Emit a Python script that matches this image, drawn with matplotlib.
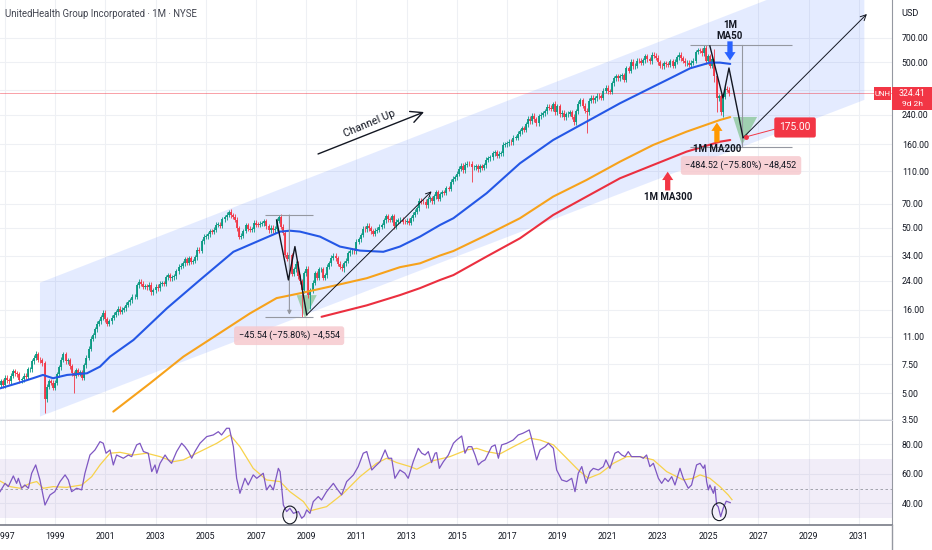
import matplotlib.pyplot as plt
import numpy as np
from matplotlib.patches import Polygon, Ellipse, Rectangle
from matplotlib.lines import Line2D
from matplotlib.ticker import NullLocator

plt.rcParams['font.family'] = ['Roboto', 'DejaVu Sans']

# monthly closes, Oct 1996 .. Nov 2025 (split adjusted)
first_month = 1996 + 9 / 12
closes = [
    5.6, 5.9, 5.6,
    6.2, 6.0, 5.9, 6.4, 6.8, 6.6, 6.5, 6.0, 6.1, 6.4, 6.3, 7.0,
    7.0, 7.8, 8.2, 8.6, 8.0, 7.9, 7.6, 4.6, 5.5, 5.9, 5.8, 5.4,
    5.8, 6.5, 7.2, 8.0, 8.6, 7.8, 7.9, 7.3, 6.6, 6.4, 6.9, 6.6,
    6.7, 6.2, 7.4, 8.2, 9.3, 10.7, 11.2, 12.2, 13.2, 13.6, 14.4, 15.3,
    14.0, 13.2, 13.6, 14.3, 14.9, 15.4, 16.2, 15.6, 16.0, 16.3, 17.2, 17.7,
    18.3, 19.1, 19.1, 22.5, 23.6, 22.9, 22.0, 22.1, 21.8, 22.7, 20.4, 20.9,
    22.0, 21.5, 22.9, 23.0, 22.9, 25.1, 25.9, 24.7, 25.2, 25.4, 27.3, 29.1,
    29.5, 30.5, 32.2, 30.8, 32.8, 31.1, 31.5, 33.1, 36.9, 36.2, 41.4, 44.0,
    44.5, 45.7, 47.7, 47.3, 48.6, 52.1, 52.3, 51.5, 56.2, 57.9, 59.9, 62.1,
    59.4, 58.2, 55.9, 49.7, 44.0, 44.8, 47.8, 51.9, 49.2, 48.8, 49.1, 53.7,
    52.3, 52.2, 53.0, 53.1, 54.8, 51.1, 48.4, 50.0, 48.4, 49.2, 55.0, 58.2,
    50.8, 46.5, 34.4, 32.6, 34.2, 26.3, 28.1, 30.4, 25.4, 23.7, 21.0, 26.6,
    28.3, 19.6, 20.9, 23.3, 26.6, 25.0, 28.0, 28.0, 25.0, 25.9, 29.1, 30.5,
    33.0, 33.9, 32.7, 30.3, 29.1, 28.4, 30.5, 31.7, 35.1, 36.0, 36.4, 36.1,
    41.1, 42.6, 45.2, 49.2, 48.9, 51.6, 49.6, 47.5, 46.1, 48.0, 48.8, 50.7,
    51.8, 55.6, 58.9, 56.2, 55.8, 58.5, 51.1, 54.3, 55.4, 56.0, 54.4, 54.2,
    55.2, 53.5, 57.2, 59.9, 62.6, 65.5, 72.9, 71.7, 71.6, 68.3, 74.4, 75.3,
    72.3, 77.3, 82.0, 75.0, 79.6, 81.8, 81.1, 86.7, 86.3, 95.0, 98.6, 101.1,
    106.3, 113.7, 118.3, 111.4, 120.2, 122.0, 121.4, 115.6, 116.0, 117.8, 112.7, 117.6,
    115.2, 119.1, 128.9, 131.7, 133.7, 141.2, 143.2, 136.1, 140.0, 141.3, 158.3, 160.0,
    162.1, 165.4, 164.0, 174.9, 175.2, 185.4, 191.8, 198.9, 195.9, 210.2, 228.2, 220.5,
    236.8, 226.1, 214.0, 236.4, 241.5, 245.3, 253.2, 268.5, 266.0, 261.4, 281.4, 249.1,
    270.2, 242.2, 247.3, 233.1, 241.8, 244.0, 249.0, 234.0, 217.3, 252.7, 279.9, 294.0,
    272.4, 255.0, 249.4, 292.5, 304.9, 295.0, 302.8, 312.6, 311.8, 305.1, 336.3, 350.7,
    333.6, 332.2, 372.1, 398.8, 411.9, 400.4, 412.2, 416.3, 390.7, 460.5, 444.2, 502.1,
    472.6, 475.9, 510.0, 508.6, 496.8, 513.6, 542.3, 519.3, 505.0, 555.1, 547.8, 530.2,
    499.2, 475.9, 472.6, 492.1, 487.3, 480.6, 506.4, 476.6, 504.2, 535.6, 553.0, 526.5,
    511.7, 493.6, 494.7, 483.7, 495.4, 509.3, 576.1, 590.2, 584.7, 564.5, 610.2, 505.9,
    542.5, 476.3, 523.8, 411.4, 301.9, 312.0, 249.6, 309.9, 345.3, 341.5, 324.4,
]
first_open = 5.4

# wicks that stick out far enough to see
wick_lows = {(1998, 8): 3.8, (1999, 10): 5.0, (2008, 11): 14.5, (2009, 3): 16.2,
             (2010, 7): 27.1, (2015, 8): 95.0, (2020, 3): 187.7, (2025, 4): 380.0,
             (2025, 5): 248.9, (2025, 8): 234.6}
wick_highs = {(1998, 4): 9.0, (2006, 1): 64.6, (2007, 12): 59.5, (2018, 11): 287.9,
              (2024, 11): 630.7, (2025, 4): 599.5}

ma50 = [(1996.81, 5.36), (1997.49, 5.75), (1998.12, 6.17), (1998.52, 6.46), (1998.92, 6.17),
        (1999.48, 6.46), (2000.27, 6.61), (2000.79, 7.25), (2001.19, 8.33), (2002.12, 10.5),
        (2003.45, 16.3), (2004.77, 24.2), (2006.10, 35.8), (2007.03, 41.2), (2007.96, 47.4),
        (2008.35, 48.0), (2008.75, 47.4), (2009.55, 44.2), (2010.34, 38.5), (2011.14, 36.4),
        (2012.07, 35.8), (2012.73, 38.5), (2013.53, 44.2), (2014.33, 52.0), (2014.86, 57.1),
        (2016.18, 80.8), (2017.51, 122.6), (2018.83, 169.4), (2020.16, 218.6), (2021.49, 282.3),
        (2022.55, 339.6), (2023.35, 390.0), (2024.28, 459.0), (2025.07, 497.0), (2025.47, 497.0),
        (2025.88, 488.0)]
ma200 = [(2001.32, 3.88), (2002.78, 5.75), (2004.11, 8.33), (2005.44, 11.26), (2006.76, 15.2),
         (2007.82, 18.8), (2008.75, 20.1), (2010.08, 22.3), (2011.41, 24.8), (2012.73, 28.9),
         (2013.53, 30.5), (2014.33, 34.0), (2014.86, 36.2), (2016.18, 45.2), (2017.51, 57.1),
         (2018.83, 77.1), (2020.16, 97.2), (2021.49, 125.3), (2022.81, 158.1), (2024.14, 190.2),
         (2025.47, 223.8), (2025.88, 233.0)]
ma300 = [(2009.61, 14.5), (2011.41, 17.0), (2012.73, 19.6), (2013.53, 21.6), (2014.33, 24.2),
         (2014.86, 25.9), (2016.18, 33.5), (2017.51, 43.2), (2018.83, 59.7), (2020.16, 77.1),
         (2021.49, 99.5), (2022.81, 119.7), (2024.14, 144.1), (2025.47, 165.5), (2025.88, 169.4)]

rsi = [(1996.81, 47.9), (1997.01, 53.5), (1997.14, 51.3), (1997.34, 58.5), (1997.47, 53.5),
       (1997.54, 56.9), (1997.67, 50.2), (1997.80, 52.4), (1997.94, 50.2), (1998.07, 60.3),
       (1998.23, 65.9), (1998.40, 55.8), (1998.60, 38.9), (1998.80, 45.7), (1998.99, 47.9),
       (1999.20, 54.7), (1999.40, 59.2), (1999.53, 55.8), (1999.66, 47.9), (1999.86, 50.2),
       (2000.06, 49.1), (2000.19, 60.3), (2000.39, 72.6), (2000.59, 76.0), (2000.79, 81.6),
       (2000.92, 80.5), (2001.03, 73.8), (2001.19, 76.0), (2001.32, 65.9), (2001.45, 72.6),
       (2001.72, 70.4), (2001.92, 72.6), (2002.05, 71.5), (2002.25, 79.4), (2002.38, 80.5),
       (2002.52, 74.9), (2002.71, 73.8), (2002.85, 61.4), (2002.98, 65.9), (2003.05, 60.3),
       (2003.18, 67.0), (2003.38, 72.6), (2003.51, 69.3), (2003.64, 67.0), (2003.84, 74.9),
       (2004.04, 80.5), (2004.17, 78.2), (2004.31, 74.9), (2004.44, 70.4), (2004.57, 74.9),
       (2004.77, 80.5), (2004.90, 82.7), (2005.04, 85.0), (2005.30, 86.1), (2005.50, 88.3),
       (2005.63, 86.1), (2005.83, 90.6), (2005.94, 90.6), (2006.10, 78.2), (2006.23, 56.9),
       (2006.36, 46.8), (2006.56, 56.9), (2006.69, 52.4), (2006.89, 59.2), (2007.03, 56.9),
       (2007.29, 60.3), (2007.42, 49.1), (2007.56, 52.4), (2007.69, 49.1), (2007.89, 63.6),
       (2007.96, 61.4), (2008.09, 38.9), (2008.22, 34.5), (2008.35, 36.7), (2008.49, 33.3),
       (2008.69, 34.5), (2008.82, 30.0), (2008.92, 31.5), (2009.02, 35.6), (2009.15, 33.3),
       (2009.28, 41.2), (2009.48, 44.6), (2009.61, 42.3), (2009.81, 47.9), (2010.08, 53.5),
       (2010.21, 50.2), (2010.41, 45.7), (2010.61, 54.7), (2010.88, 59.2), (2011.07, 64.8),
       (2011.27, 73.8), (2011.41, 74.9), (2011.61, 62.5), (2011.74, 64.8), (2011.94, 68.1),
       (2012.14, 76.0), (2012.27, 70.4), (2012.40, 70.4), (2012.53, 56.9), (2012.73, 62.5),
       (2012.93, 60.3), (2013.06, 56.9), (2013.26, 68.1), (2013.46, 77.1), (2013.60, 73.8),
       (2013.73, 72.6), (2013.86, 74.9), (2013.99, 67.5), (2014.13, 73.8), (2014.19, 74.2),
       (2014.30, 63.6), (2014.46, 68.1), (2014.66, 72.6), (2014.86, 80.5), (2014.99, 82.7),
       (2015.19, 85.4), (2015.32, 73.8), (2015.45, 78.2), (2015.59, 78.2), (2015.72, 72.6),
       (2015.85, 65.9), (2015.99, 68.1), (2016.12, 69.3), (2016.38, 78.2), (2016.52, 79.4),
       (2016.65, 70.4), (2016.78, 79.4), (2016.98, 80.5), (2017.24, 82.7), (2017.44, 86.1),
       (2017.62, 87.2), (2017.75, 88.3), (2017.88, 89.5), (2017.97, 83.9), (2018.17, 69.3),
       (2018.31, 76.0), (2018.51, 78.2), (2018.64, 80.5), (2018.84, 77.1), (2018.97, 62.5),
       (2019.17, 55.8), (2019.37, 54.7), (2019.57, 56.9), (2019.70, 47.9), (2019.83, 60.3),
       (2019.97, 64.8), (2020.14, 53.5), (2020.30, 61.4), (2020.43, 63.6), (2020.63, 62.5),
       (2020.83, 64.8), (2020.93, 69.3), (2021.09, 63.6), (2021.29, 73.8), (2021.42, 74.9),
       (2021.56, 72.6), (2021.69, 71.5), (2021.82, 74.9), (2021.95, 71.5), (2022.15, 71.5),
       (2022.29, 71.5), (2022.42, 70.4), (2022.55, 72.6), (2022.68, 64.8), (2022.82, 67.0),
       (2023.02, 56.9), (2023.15, 53.5), (2023.28, 56.9), (2023.41, 54.7), (2023.55, 58.0),
       (2023.68, 52.4), (2023.88, 63.6), (2024.01, 56.9), (2024.21, 50.2), (2024.34, 52.4),
       (2024.54, 65.9), (2024.68, 67.0), (2024.81, 63.6), (2024.87, 65.9), (2024.94, 54.7),
       (2025.01, 49.1), (2025.07, 52.4), (2025.21, 46.8), (2025.27, 51.3), (2025.34, 38.9),
       (2025.40, 37.8), (2025.50, 31.1), (2025.60, 36.7), (2025.72, 41.5), (2025.88, 40.5)]
rsi_ma = [(1996.81, 55.1), (1997.21, 51.3), (1997.61, 50.2), (1998.00, 53.5), (1998.27, 54.7),
          (1998.53, 50.2), (1998.93, 51.3), (1999.46, 50.8), (2000.06, 52.4), (2000.46, 58.0),
          (2000.79, 65.9), (2001.19, 73.8), (2001.59, 74.4), (2002.12, 72.6), (2002.65, 73.8),
          (2003.18, 71.5), (2003.71, 68.1), (2004.11, 69.3), (2004.77, 74.9), (2005.44, 80.5),
          (2005.97, 86.1), (2006.36, 78.2), (2006.89, 63.6), (2007.42, 55.8), (2007.96, 54.7),
          (2008.35, 47.9), (2008.89, 41.2), (2009.15, 35.0), (2009.81, 37.8), (2010.48, 46.8),
          (2011.14, 58.0), (2011.80, 67.0), (2012.20, 70.4), (2012.60, 67.5), (2013.13, 64.8),
          (2013.40, 63.0), (2014.06, 68.8), (2014.72, 71.5), (2015.39, 76.0), (2015.79, 77.1),
          (2016.18, 74.9), (2016.71, 73.3), (2017.25, 78.2), (2017.91, 83.9), (2018.31, 82.7),
          (2018.84, 79.4), (2019.37, 70.4), (2019.83, 62.5), (2020.23, 56.9), (2020.69, 60.0),
          (2021.23, 67.0), (2021.76, 71.5), (2022.29, 71.5), (2022.82, 69.3), (2023.35, 61.4),
          (2024.01, 55.8), (2024.41, 56.9), (2024.68, 59.2), (2025.07, 56.9), (2025.47, 51.3),
          (2025.80, 45.7), (2025.95, 42.5)]

price_ticks = [3.5, 5, 7.5, 11, 16, 24, 34, 50, 70, 110, 160, 240, 340, 500, 700]
hidden_tick = 340  # sits under the last-price tag
year_ticks = list(range(1997, 2032, 2))
rsi_ticks = [40, 60, 80]
last_price = 324.41

W, H = 932, 550
fig = plt.figure(figsize=(W / 100, H / 100), dpi=100)
ax = fig.add_axes([0, 130 / H, 892 / W, 420 / H])
axr = fig.add_axes([0, 25 / H, 892 / W, 104 / H])

ink = '#131722'
grid_c = '#eef0f4'
tick_fs = 6.3

# ---------- price pane ----------
ax.set_yscale('log')
ax.set_xlim(1996.809, 2032.32)
ax.set_ylim(3.452, 1187)
ax.set_yticks(price_ticks)
ax.set_yticklabels(['' if v == hidden_tick else f'{v:.2f}' for v in price_ticks])
ax.yaxis.set_minor_locator(NullLocator())
ax.yaxis.tick_right()
ax.tick_params(axis='y', length=0, pad=7, labelsize=tick_fs, labelcolor=ink)
ax.set_xticks(year_ticks)
ax.tick_params(axis='x', length=0, labelbottom=False)
ax.grid(True, color=grid_c, lw=0.8, zorder=0)
ax.set_axisbelow(True)
for s in ['top', 'left']:
    ax.spines[s].set_visible(False)
ax.spines['bottom'].set_color('#d1d4dc')
ax.spines['right'].set_color('#9598a1')

# channel
ax.add_patch(Polygon([(1998.40, 23.3), (2031.22, 2014), (2031.22, 296), (1998.40, 3.62)],
                     closed=True, fc='#2962ff', alpha=0.12, ec='none', zorder=1))

ax.axhline(last_price, color='#f23645', lw=0.6, alpha=0.55, zorder=2)

# candles
c = np.array(closes)
o = np.r_[first_open, c[:-1]]
n = len(c)
t = first_month + np.arange(n) / 12
yrs = 1996 + (9 + np.arange(n)) // 12
mos = (9 + np.arange(n)) % 12 + 1
hi = np.maximum(o, c) * 1.035
lo = np.minimum(o, c) / 1.035
for i in range(n):
    key = (int(yrs[i]), int(mos[i]))
    if key in wick_highs:
        hi[i] = wick_highs[key]
    if key in wick_lows:
        lo[i] = wick_lows[key]
col = np.where(c >= o, '#089981', '#f23645')
body_lo = np.minimum(o, c)
body_hi = np.maximum(np.maximum(o, c), body_lo * 1.006)
ax.vlines(t, lo, hi, colors=col, lw=0.6, zorder=3)
ax.vlines(t, body_lo, body_hi, colors=col, lw=1.3, zorder=3)

# moving averages
for pts, color in [(ma300, '#eb2f3f'), (ma200, '#f7a21b'), (ma50, '#2457e6')]:
    xs, ys = zip(*pts)
    ax.plot(xs, ys, color=color, lw=1.5, zorder=4, solid_capstyle='round',
            solid_joinstyle='round')

# green target zones
ax.add_patch(Polygon([(2008.62, 19.6), (2009.42, 19.6), (2008.95, 14.2)],
                     fc='#4caf50', alpha=0.45, ec='none', zorder=2))
ax.add_patch(Polygon([(2025.99, 233.4), (2026.95, 233.4), (2026.35, 158)],
                     fc='#4caf50', alpha=0.45, ec='none', zorder=2))

# measuring lines
gray = '#9598a1'
ax.hlines([59.7, 14.5], 2007.36, 2009.27, color=gray, lw=0.8, zorder=5)
ax.annotate('', xy=(2008.33, 14.9), xytext=(2008.33, 59.7),
            arrowprops=dict(arrowstyle='-|>', color=gray, lw=0.8, mutation_scale=6,
                            shrinkA=0, shrinkB=0), zorder=5)
ax.hlines([639, 154.6], 2024.28, 2028.34, color=gray, lw=0.8, zorder=5)
ax.plot([2026.35, 2026.35], [639, 154.6], color=gray, lw=0.8, zorder=5)

# zig-zag projections
ax.plot([2007.82, 2008.29, 2008.55, 2009.02], [55.7, 24.2, 38.5, 14.9], color=ink, lw=1.0, zorder=6)
ax.annotate('', xy=(2013.99, 83.0), xytext=(2009.02, 14.9),
            arrowprops=dict(arrowstyle='->', color=ink, lw=0.7, mutation_scale=9,
                            shrinkA=0, shrinkB=0), zorder=6)
ax.plot([2025.07, 2025.59, 2025.83, 2026.39], [626, 304, 461, 175], color=ink, lw=1.0, zorder=6)
ax.annotate('', xy=(2031.32, 977), xytext=(2026.39, 175),
            arrowprops=dict(arrowstyle='->', color=ink, lw=0.7, mutation_scale=10,
                            shrinkA=0, shrinkB=0), zorder=6)

# channel up label
ax.annotate('', xy=(2013.69, 250), xytext=(2009.47, 139.5),
            arrowprops=dict(arrowstyle='->,head_length=0.7,head_width=0.35', color=ink,
                            lw=1.0, mutation_scale=12, shrinkA=0, shrinkB=0), zorder=6)
ax.text(2011.50, 214, 'Channel Up', rotation=23, fontsize=7.8, color=ink,
        ha='center', va='center', zorder=6)

# measure labels
box = dict(boxstyle='round,pad=0.5,rounding_size=0.3', fc='#f6c9ce', ec='none', alpha=0.85)
ax.text(2008.32, 11.15, '\u221245.54 (\u221275.80%) \u22124,554', fontsize=6.6, color=ink,
        ha='center', va='center', bbox=box, zorder=7)
ax.text(2026.31, 118.9, '\u2212484.52 (\u221275.80%) \u221248,452', fontsize=6.6, color=ink,
        ha='center', va='center', bbox=box, zorder=7)

# target label
ax.plot([2026.51, 2027.79], [177, 199.5], color='#f23645', lw=0.7, zorder=6)
ax.plot([2026.51], [177], 'o', color='#f23645', ms=2.5, zorder=7)
ax.text(2028.46, 201.7, '175.00', fontsize=7.3, color='white', ha='center', va='center',
        bbox=dict(boxstyle='round,pad=0.5,rounding_size=0.2', fc='#f23645', ec='none'),
        zorder=7)

# block arrows for the moving averages
def block_arrow(x, y0, y1, color):
    ax.annotate('', xy=(x, y1), xytext=(x, y0),
                arrowprops=dict(arrowstyle='simple,head_width=0.8,head_length=0.6,tail_width=0.38',
                                fc=color, ec='none', mutation_scale=10, shrinkA=0, shrinkB=0),
                zorder=7)

block_arrow(2025.87, 668, 512, '#2962ff')
block_arrow(2025.35, 164, 216, '#ff9800')
block_arrow(2023.39, 84, 109, '#f23645')
lab = dict(fontsize=7.0, color=ink, ha='center', va='center', fontweight='bold', zorder=7)
ax.text(2025.87, 839, '1M', **lab)
ax.text(2025.87, 719, 'MA50', **lab)
ax.text(2025.35, 150, '1M MA200', **lab)
ax.text(2023.39, 76.5, '1M MA300', **lab)

# ---------- RSI pane ----------
axr.set_xlim(1996.809, 2032.32)
axr.set_ylim(25.45, 95.5)
axr.axhspan(30, 70, color='#7e57c2', alpha=0.1, lw=0, zorder=1)
axr.axhline(50, color='#9598a1', lw=0.6, ls=(0, (3, 3)), zorder=2)
xs, ys = zip(*rsi_ma)
axr.plot(xs, ys, color='#f7d24a', lw=0.9, zorder=3)
xs, ys = zip(*rsi)
axr.plot(xs, ys, color='#7e57c2', lw=0.9, zorder=4)
for cx, cy in [(2008.35, 32.2), (2025.44, 34.4)]:
    axr.add_patch(Ellipse((cx, cy), 0.56, 12.0, fc='none', ec=ink, lw=0.8, zorder=5))
axr.set_yticks(rsi_ticks)
axr.set_yticklabels([f'{v:.2f}' for v in rsi_ticks])
axr.yaxis.tick_right()
axr.set_xticks(year_ticks)
axr.set_xticklabels([str(y) for y in year_ticks])
axr.tick_params(axis='y', length=0, pad=7, labelsize=tick_fs, labelcolor=ink)
axr.tick_params(axis='x', length=0, pad=5, labelsize=tick_fs, labelcolor=ink)
axr.grid(True, color=grid_c, lw=0.8, zorder=0)
axr.set_axisbelow(True)
for s in ['top', 'left']:
    axr.spines[s].set_visible(False)
axr.spines['bottom'].set_color('#787b86')
axr.spines['bottom'].set_linewidth(1.2)
axr.spines['right'].set_color('#9598a1')

# ---------- chrome ----------
fig.add_artist(Line2D([892 / W, 892 / W], [0, 25 / H], color='#9598a1', lw=1))
fig.text(5 / W, 1 - 14 / H, 'UnitedHealth Group Incorporated \u00b7 1M \u00b7 NYSE',
         fontsize=6.9, color='#434651', va='center')
fig.text(910 / W, 1 - 14 / H, 'USD', fontsize=6.6, color=ink, ha='center', va='center')
fig.add_artist(Rectangle((892 / W, 1 - 110 / H), 40 / W, 23 / H, transform=fig.transFigure,
                         fc='#f23645', ec='none', zorder=5))
fig.add_artist(Rectangle((874 / W, 1 - 100 / H), 17 / W, 13 / H, transform=fig.transFigure,
                         fc='#f23645', ec='none', zorder=5))
fig.text(912 / W, 1 - 93.5 / H, f'{last_price:.2f}', fontsize=6.3, color='white',
         ha='center', va='center', zorder=6)
fig.text(912 / W, 1 - 104.5 / H, '9d 2h', fontsize=6.0, color='white',
         ha='center', va='center', zorder=6)
fig.text(882.5 / W, 1 - 93.5 / H, 'UNH', fontsize=5.6, color='white',
         ha='center', va='center', zorder=6)

fig.savefig('out.png', dpi=100, facecolor='white')
